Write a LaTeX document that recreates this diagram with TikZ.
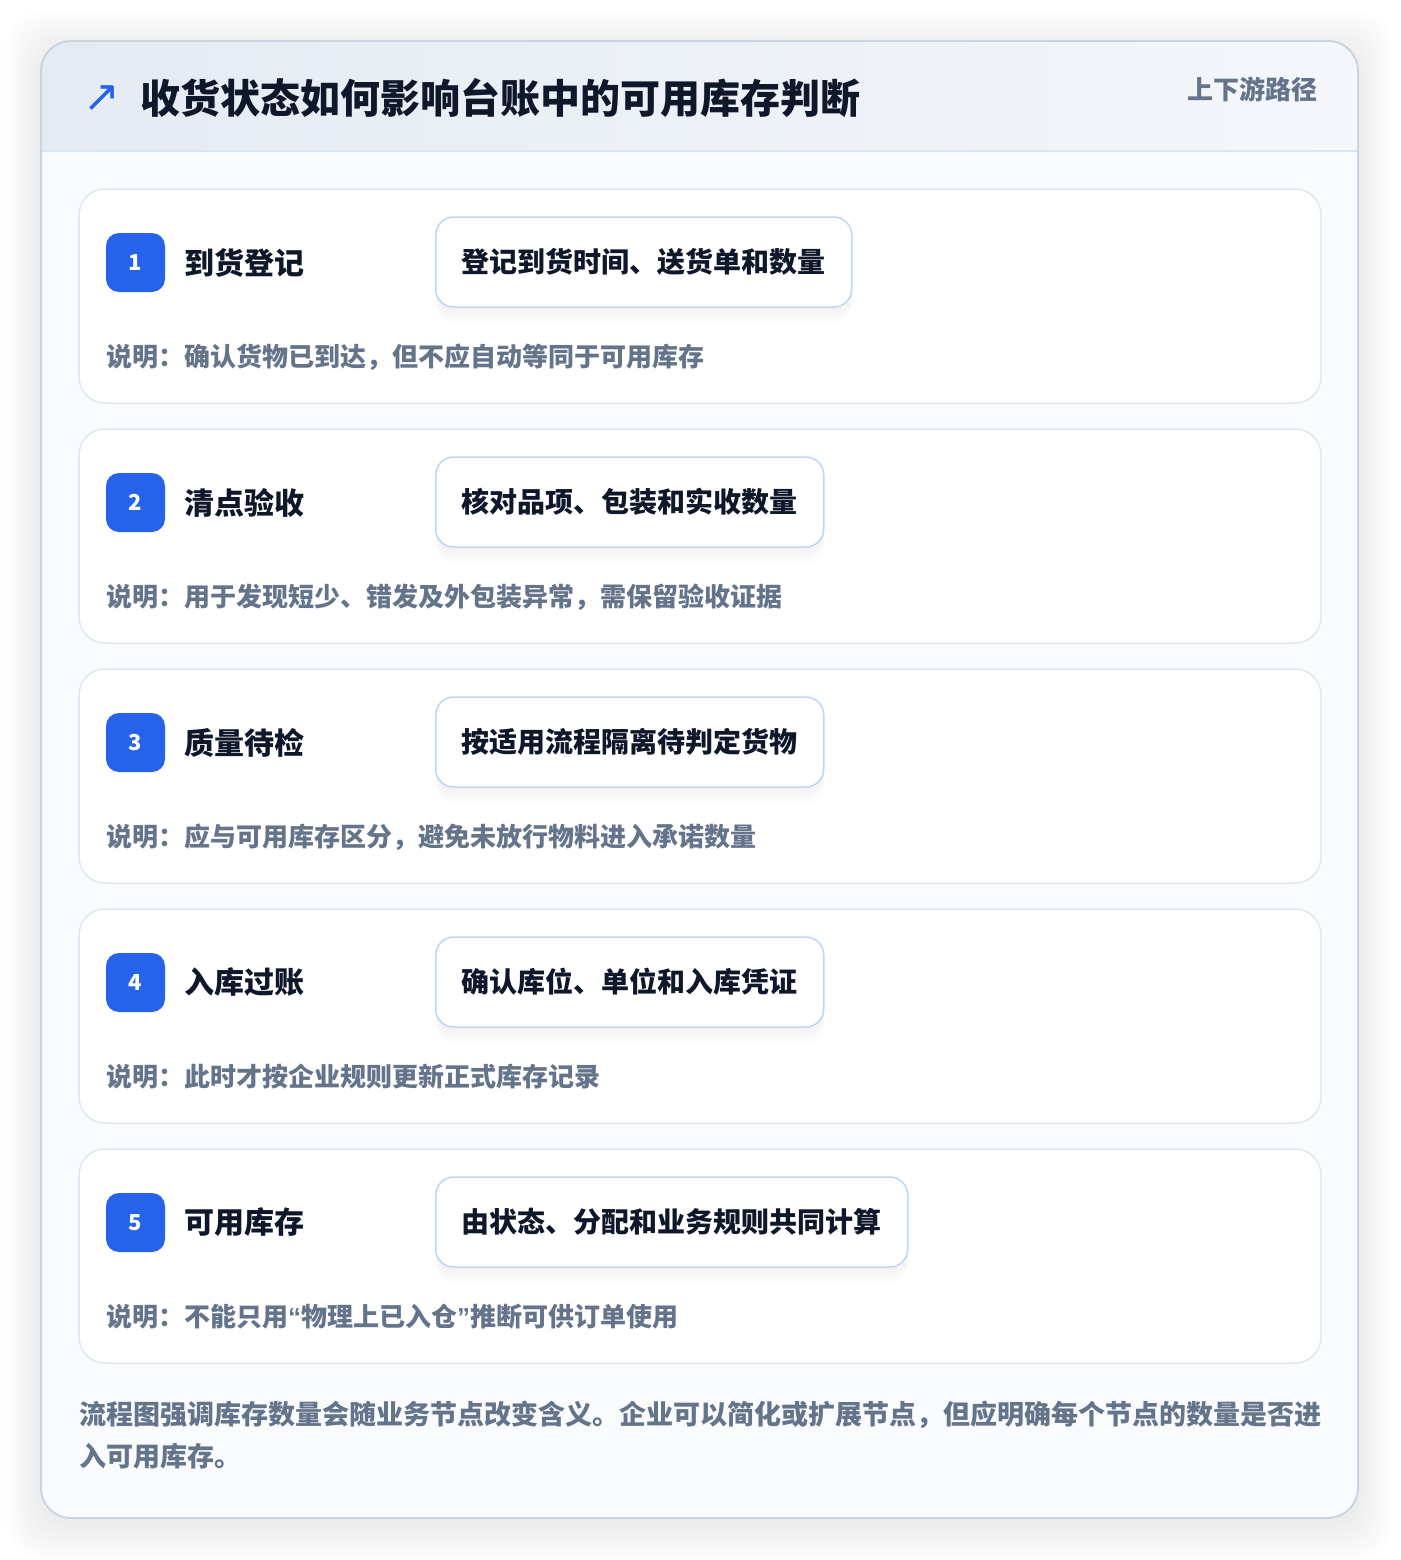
\documentclass[tikz,border=0pt]{standalone}
\usepackage{fontspec}
\setmainfont{Noto Sans CJK SC}
\newfontfamily\symfont{DejaVu Sans}
\newfontfamily\quotefont{Liberation Sans}
\usetikzlibrary{positioning}

\definecolor{ink}{HTML}{0F172A}
\definecolor{muted}{HTML}{64748B}
\definecolor{accent}{HTML}{2563EB}
\definecolor{cardline}{HTML}{DDE8F6}
\definecolor{boxline}{HTML}{BFD6F3}
\definecolor{outline}{HTML}{CBD5E1}
\definecolor{bodyfill}{HTML}{F9FBFD}
\definecolor{headl}{HTML}{E5EBF3}
\definecolor{headr}{HTML}{F4F7FB}
\definecolor{hdline}{HTML}{D9E6F6}

\newcommand\openq{{\quotefont\bfseries “}}
\newcommand\closeq{{\quotefont\bfseries ”}}

\tikzset{
  card/.style={draw=cardline, fill=white, line width=1.5pt, rounded corners=26pt},
  badge/.style={fill=accent, rounded corners=13pt, minimum size=59pt, inner sep=0pt,
    text=white, font=\fontsize{22}{22}\selectfont\bfseries},
  stepname/.style={anchor=west, inner sep=0pt, text=ink, font=\fontsize{30}{30}\selectfont\bfseries},
  action/.style={draw=boxline, fill=white, line width=1.5pt, rounded corners=18pt,
    minimum height=90pt, inner xsep=26pt, anchor=west, text=ink,
    font=\fontsize{28}{28}\selectfont\bfseries,
    preaction={fill=black, opacity=0.012, transform canvas={yshift=-16pt}},
    preaction={fill=black, opacity=0.012, transform canvas={yshift=-12pt}},
    preaction={fill=black, opacity=0.012, transform canvas={yshift=-8pt}},
    preaction={fill=black, opacity=0.012, transform canvas={yshift=-4pt}}},
  remark/.style={anchor=west, inner sep=0pt, text=muted, font=\fontsize{26}{26}\selectfont\bfseries},
}

\begin{document}
\begin{tikzpicture}[x=1pt,y=-1pt]
\useasboundingbox[fill=white] (0,0) rectangle (1400,1560);

% soft shadow under the sheet
\foreach \s in {2,4,...,36}
  \fill[black, opacity=0.004, rounded corners=34pt] ({41-\s},{47-\s}) rectangle ({1358+\s},{1524+\s});

\fill[bodyfill, rounded corners=30pt] (41,41) rectangle (1358,1518);
\begin{scope}
  \clip[rounded corners=30pt] (41,41) rectangle (1358,1518);
  \fill[left color=headl, right color=headr] (41,41) rectangle (1358,151);
\end{scope}
\draw[hdline, line width=1.5pt] (41,151) -- (1358,151);
\draw[outline, line width=2pt, rounded corners=30pt] (41,41) rectangle (1358,1518);

\node[text=accent, font=\symfont\fontsize{44}{44}\selectfont] (icon) at (102,99) {↗};
\node[anchor=west, inner sep=0pt, text=ink, font=\fontsize{40}{40}\selectfont\bfseries] (title) at (140,98) {收货状态如何影响台账中的可用库存判断};
\node[anchor=east, inner sep=0pt, text=muted, font=\fontsize{26}{26}\selectfont\bfseries] (route) at (1318,89) {上下游路径};

\foreach \n/\name/\act/\rem in {
  1/到货登记/登记到货时间、送货单和数量/说明：确认货物已到达，但不应自动等同于可用库存,
  2/清点验收/核对品项、包装和实收数量/说明：用于发现短少、错发及外包装异常，需保留验收证据,
  3/质量待检/按适用流程隔离待判定货物/说明：应与可用库存区分，避免未放行物料进入承诺数量,
  4/入库过账/确认库位、单位和入库凭证/说明：此时才按企业规则更新正式库存记录,
  5/可用库存/由状态、分配和业务规则共同计算/说明：不能只用\openq 物理上已入仓\closeq 推断可供订单使用}
{
  \pgfmathsetmacro\top{189+240*(\n-1)}
  \draw[card] (79,\top) rectangle (1321,{\top+214});
  \node[badge] (badge\n) at (135.5,{\top+73.5}) {\n};
  \node[stepname, right=19pt of badge\n] (name\n) {\name};
  \node[action] (act\n) at (435,{\top+73}) {\act};
  \node[remark] (note\n) at (106,{\top+168}) {\rem};
}

\node[anchor=west, inner sep=0pt, text=muted, font=\fontsize{27}{27}\selectfont\bfseries] (sum1) at (79,1415) {流程图强调库存数量会随业务节点改变含义。企业可以简化或扩展节点，但应明确每个节点的数量是否进};
\node[anchor=west, inner sep=0pt, text=muted, font=\fontsize{27}{27}\selectfont\bfseries] (sum2) at (79,1456) {入可用库存。};
\end{tikzpicture}
\end{document}
